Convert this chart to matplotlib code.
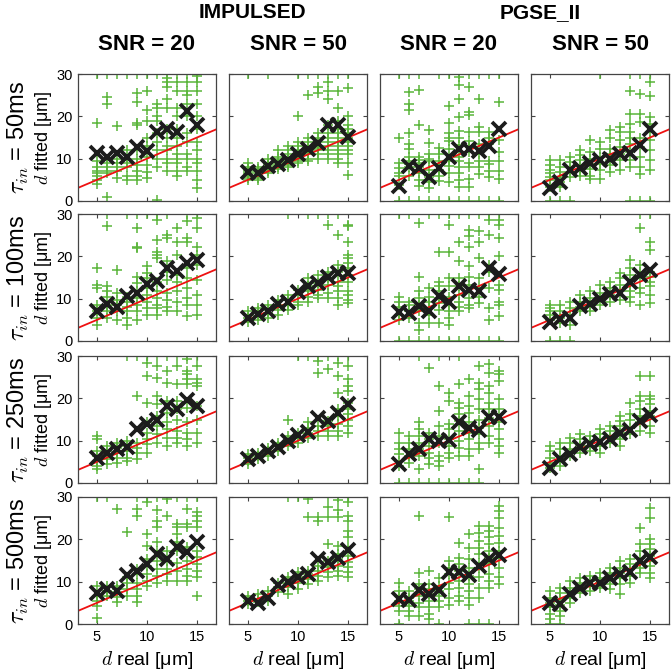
import matplotlib
matplotlib.use('Agg')
import matplotlib.pyplot as plt

plt.rcParams['font.family'] = ['Liberation Sans', 'DejaVu Sans']
plt.rcParams['mathtext.fontset'] = 'cm'

d_real = [5, 6, 7, 8, 9, 10, 11, 12, 13, 14, 15]

methods = ['IMPULSED', 'PGSE_II']
snr_titles = ['SNR = 20', 'SNR = 50', 'SNR = 20', 'SNR = 50']
tau_labels = [r'$\tau_{in}$ = 50ms', r'$\tau_{in}$ = 100ms',
              r'$\tau_{in}$ = 250ms', r'$\tau_{in}$ = 500ms']

# mean fitted diameters (black crosses)
mean_imp20_t50 = [11.3, 10.3, 11.3, 10.3, 12.8, 11.8, 16.3, 17.1, 16.3, 21.2, 17.9]
mean_imp50_t50 = [6.8, 6.5, 8.3, 8.8, 9.8, 11.2, 12.3, 13.8, 17.9, 18.0, 15.2]
mean_pgse20_t50 = [3.5, 8.2, 7.7, 5.7, 7.9, 10.3, 12.2, 12.2, 11.8, 13.0, 16.9]
mean_pgse50_t50 = [3.1, 4.5, 7.3, 7.9, 8.9, 9.6, 10.0, 11.1, 11.4, 13.2, 16.9]
mean_imp20_t100 = [7.1, 8.7, 8.1, 10.7, 11.3, 13.4, 14.2, 17.2, 16.6, 18.4, 19.2]
mean_imp50_t100 = [5.5, 6.3, 7.1, 8.7, 9.3, 11.5, 12.9, 13.7, 15.2, 16.0, 16.0]
mean_pgse20_t100 = [6.9, 6.6, 8.2, 7.0, 10.7, 9.2, 12.9, 12.1, 11.8, 17.2, 15.8]
mean_pgse50_t100 = [4.6, 5.1, 5.4, 8.3, 8.7, 9.9, 11.2, 11.4, 14.0, 15.6, 16.7]
mean_imp20_t250 = [6.0, 7.2, 8.1, 8.6, 12.7, 13.9, 14.9, 18.2, 17.4, 19.6, 18.3]
mean_imp50_t250 = [5.6, 6.4, 7.6, 8.6, 9.9, 11.3, 12.0, 15.4, 14.6, 16.6, 18.6]
mean_pgse20_t250 = [4.6, 6.8, 8.0, 10.5, 9.9, 10.2, 14.4, 13.1, 12.5, 15.7, 15.7]
mean_pgse50_t250 = [3.6, 5.6, 6.8, 8.6, 9.1, 9.7, 10.5, 11.9, 12.5, 14.6, 16.0]
mean_imp20_t500 = [7.4, 8.2, 7.8, 11.5, 12.5, 14.1, 16.5, 15.4, 18.3, 17.0, 19.4]
mean_imp50_t500 = [5.4, 5.0, 6.2, 9.1, 9.9, 11.2, 11.7, 15.4, 14.6, 15.7, 17.5]
mean_pgse20_t500 = [5.8, 5.6, 8.0, 7.2, 8.0, 12.4, 12.4, 11.6, 13.7, 15.3, 16.3]
mean_pgse50_t500 = [5.0, 4.8, 7.0, 8.4, 9.8, 9.8, 10.8, 11.9, 12.4, 14.9, 15.8]

# individual fits (green plus), one list per d real
green_imp20_t50 = [
    [30, 18.5, 9.5, 8, 7, 6.5, 6, 5, 4],
    [30, 24.5, 23, 10, 9, 8, 7, 6.5, 1],
    [30, 17.8, 10, 9, 8, 7, 5.5],
    [30, 12, 10, 9, 8, 6, 5],
    [30, 25.5, 23.5, 18.5, 18, 12, 10, 8.5, 7, 6, 5],
    [30, 26, 21.5, 18.8, 15, 13, 10.5, 8.5, 6.8, 5.5],
    [30, 23, 22, 20, 19, 16, 14, 12, 10, 8, 0.3],
    [30, 29, 28, 27, 24, 22, 17, 15, 13, 12, 10, 9, 7],
    [30, 28, 26, 22, 20, 17, 15, 13, 11, 10, 9, 7, 6],
    [30, 28, 26, 25, 23, 20, 16, 14, 11, 10, 8, 7],
    [30, 29.5, 28, 26, 23, 20, 17, 14, 12, 10, 9, 7, 5, 3]]
green_imp50_t50 = [
    [30, 9, 8, 7.5, 7, 6.5, 6, 5.5, 5],
    [8, 7.5, 7, 6.5, 6, 5.5, 5],
    [30, 10, 9, 8.5, 8, 7.5, 7, 6.5],
    [12, 10.5, 10, 9.5, 9, 8.5, 8, 7.5],
    [13, 12, 11, 10.5, 10, 9.5, 9, 8.5, 8],
    [30, 20, 14, 13, 12, 11, 10.5, 10, 9.5, 9],
    [30, 25, 15, 14, 13, 12, 11.5, 11, 10, 9.5],
    [30, 27, 25.5, 16, 15, 14, 13, 12.5, 12, 11, 10],
    [30, 28, 26, 24, 18, 16, 15, 14, 13, 12, 11, 10],
    [30, 26, 22, 19, 17, 16, 15, 14, 13, 12, 11, 10, 9],
    [30, 26.8, 20, 18, 17, 16, 15, 14, 13, 12, 11, 9, 6.2]]
green_pgse20_t50 = [
    [30, 14.8, 9, 7.7, 6.5, 5.8, 3.7, 0],
    [30, 25.8, 23, 21.5, 16, 13.5, 12.3, 10.5, 9.5, 8.8, 8, 6, 0],
    [30, 26.3, 17.9, 10.5, 9.7, 9, 8, 6.5, 5, 3.5, 0],
    [16.7, 13.6, 11, 10, 9.5, 7.3, 5.7, 4.5, 3, 0],
    [30, 12.5, 11, 9.5, 8.5, 7.3, 6, 4.8, 0],
    [30, 22.4, 18.5, 16, 15, 14.2, 12.3, 9.5, 8.3, 6.7, 4.5, 0],
    [30, 29.3, 27.4, 24, 19.9, 16.6, 14.8, 13.2, 10.5, 9.5, 8, 6.5, 5, 3.3, 0],
    [30, 27, 21, 20.3, 16.3, 14.2, 13, 11.5, 9, 8, 5.2, 3.2, 0],
    [30, 24, 17.4, 16.3, 13.4, 11, 9.4, 8, 6.4, 0],
    [30, 16.3, 15, 13.4, 9.5, 8.7, 7.2, 5.6, 0],
    [30, 23.4, 14.3, 11.5, 9.5, 7.2, 5.2, 0]]
green_pgse50_t50 = [
    [9.6, 8.4, 7.3, 6.5, 5.7, 4.9, 3.3, 0],
    [9.6, 8, 6.8, 5.7, 4.5, 3.3, 0],
    [10.4, 9.2, 8, 6.8, 5.7, 0],
    [12, 10.8, 9.6, 8.4, 7.2, 6],
    [14.5, 11.6, 10, 8.8, 7.6, 6, 5.2],
    [30, 13.9, 12.3, 10.4, 8.8, 7.3, 5.2],
    [16.7, 14.8, 12.4, 11.2, 9.6, 8.4, 6.8],
    [17.4, 16.3, 14.3, 12.7, 11.2, 9.6, 7.3],
    [30, 26, 20.6, 18.2, 16.3, 15, 13.5, 11.5, 9.6, 8, 0],
    [30, 25.3, 20.6, 18.6, 15, 12.7, 10.4, 8, 6.4, 0],
    [30, 28.2, 24.9, 19.8, 18.2, 16.3, 14.3, 12, 9.6, 7.3, 0]]
green_imp20_t100 = [
    [17.2, 13.3, 12.5, 8.5, 7, 5.4, 3.8],
    [30, 27.1, 12.9, 11.7, 10.5, 8.5, 7, 5.4],
    [16.8, 11.3, 9.7, 8.5, 7, 5],
    [30, 10.5, 9.3, 8.1, 7, 5.4, 3.8],
    [30, 26.7, 22.3, 22, 15.2, 13.6, 11.7, 10.1, 8.5, 7, 5],
    [30, 17.6, 16, 14.8, 12.5, 10.9, 9.3, 7.7, 6.2],
    [30, 28.7, 23.9, 21.1, 20.4, 19.6, 14, 11.7, 10.1, 8.5, 7.7, 6.2],
    [30, 25, 24.3, 18.8, 16.4, 14.4, 11.3, 9.7, 8.1, 7],
    [26.8, 23.5, 20.4, 15.6, 14, 11.7, 9.3, 7],
    [30, 28.3, 24.3, 23.5, 17.2, 14.8, 12.5, 10.1, 8.5, 5.8],
    [29, 26.7, 22.3, 20.4, 18, 14.4, 10.9, 8.5, 6.2]]
green_imp50_t100 = [
    [7, 6.2, 5.4, 4.6],
    [7.7, 7, 5.8, 5],
    [8.5, 7.3, 6.5, 5.4],
    [9.7, 8.5, 7.3, 6.2],
    [30, 10.9, 9.7, 8.5, 7.3],
    [12.1, 10.9, 9.3, 8.5],
    [30, 14.8, 12.9, 11.7, 10.5, 9.3],
    [30, 15.6, 13.6, 12.1, 10.9, 10.1],
    [30, 27.5, 16.4, 14.8, 13.3, 11.3, 10.1],
    [30, 25, 18, 16.4, 14, 12.9, 11.7, 10.1, 8.5],
    [27.5, 27.1, 23.5, 20.4, 19.6, 18.4, 17.2, 15.6, 14, 11.7, 10.9, 9.7, 8.9]]
green_pgse20_t100 = [
    [30, 10.5, 9.3, 8.1, 6.2, 5, 0],
    [30, 9.3, 8.5, 7, 5.4, 0],
    [27.9, 15.2, 11.7, 10.1, 8.5, 7, 4.2, 2.6, 0],
    [30, 12.5, 10.5, 9.3, 7.7, 6.2, 4.2, 0],
    [30, 21.1, 14, 12.9, 11.7, 10.1, 8.9, 7.3, 4.2, 0],
    [30, 27.5, 21.1, 14.8, 12.9, 10.5, 8.5, 7, 5.4, 3.8, 0],
    [30, 23.5, 18.8, 14.8, 12.9, 10.9, 9.3, 8.1, 7, 0],
    [30, 26.3, 24.7, 22.3, 17.6, 15.2, 13.3, 10.1, 8.5, 7.7, 0],
    [30, 25.9, 23.5, 19.6, 14.8, 12.5, 10.5, 8.9, 0],
    [30, 28.7, 25.1, 18, 16.4, 12.5, 7.7, 5, 0],
    [28.7, 27.5, 24.3, 20, 13.3, 12.1, 9.3, 8.5, 5.8, 0]]
green_pgse50_t100 = [
    [8.5, 7.7, 7, 6.2, 5, 0],
    [8.5, 7, 5.4, 4.2, 0],
    [9.3, 7.7, 6.2, 3.8, 0],
    [10.9, 9.3, 8.1, 7],
    [11.7, 10.1, 8.5, 7],
    [13.3, 11.3, 10.1, 8.5],
    [14, 12.5, 10.9, 9.3],
    [16, 14.8, 13.3, 11.7, 9.7],
    [19.2, 17.2, 15.6, 13.3, 11.7, 10.5, 9.3],
    [30, 26.7, 18, 16.4, 14.8, 12.5, 11.3, 8.5],
    [30, 23.5, 21.5, 16.4, 15.2, 14, 12.9, 10.9, 8.9]]
green_imp20_t250 = [
    [11.1, 10.3, 7.6, 6.4, 5.2, 4, 3.2],
    [8.7, 7.6, 6.4, 5.6, 4.4],
    [9.5, 8.3, 7.2, 6, 4.8],
    [30, 9.9, 8.7, 7.6, 6, 5.2],
    [30, 20.5, 9.5, 8.3, 7.2, 5.6],
    [30, 28.4, 25.3, 19, 14.3, 11.9, 10.3, 9.1, 7.2],
    [30, 27.6, 24.9, 20.5, 18.6, 15.8, 13.5, 11.5, 9.5],
    [30, 26.5, 23.7, 19.4, 16.6, 14.3, 12.7, 10.7, 8.7],
    [30, 27.6, 23.3, 19.4, 17.4, 15, 12.3, 10.7, 9.5],
    [30, 29.2, 26.5, 25.7, 24.5, 23.3, 17.8, 14.3, 11.9, 10.3, 8.7],
    [30, 27.6, 24.5, 23.7, 22.9, 18.2, 15, 11.9, 9.5]]
green_imp50_t250 = [
    [6.8, 6, 5.2, 4.4],
    [7.2, 6.4, 5.6],
    [8.3, 7.6, 6.4],
    [9.5, 8.7, 7.6],
    [15, 11.1, 9.9, 8.7],
    [30, 11.9, 10.7, 9.5],
    [30, 14.3, 13.1, 11.9, 10.7],
    [30, 28.8, 26.1, 13.5, 12.3, 11.1],
    [30, 26.9, 14.6, 13.5, 12.3, 11.1],
    [30, 28.4, 25.3, 21.3, 17.4, 15.8, 13.9, 12.3, 11.1],
    [30, 27.6, 24.5, 22.9, 21.7, 18.9, 17.4, 16.2, 15, 13.5, 11.9]]
green_pgse20_t250 = [
    [11.9, 9.5, 8, 6.8, 5.2, 4, 0],
    [11.1, 9.5, 8, 6.4, 4.8, 0],
    [30, 14.3, 12.7, 11.1, 9.5, 8, 6.4, 3.2, 0],
    [27.2, 11.9, 10.3, 8.7, 7.2, 6, 4.4, 0],
    [30, 22.9, 17, 13.5, 11.1, 9.5, 6.4, 5.2, 4, 0],
    [21.3, 19.4, 13.9, 12.7, 10.3, 8.7, 7.2, 6, 0],
    [30, 23.3, 19, 17.8, 16.2, 14.6, 12.3, 9.9, 8.3, 6.4, 0],
    [24.5, 20.5, 18.2, 16.6, 14.3, 11.9, 10.3, 8, 6.4, 0],
    [27.6, 23.7, 22.1, 19.8, 17.4, 15, 13.1, 11.5, 9.5, 8, 3.2, 0],
    [28, 26.1, 22.9, 21.3, 19, 17.4, 15.4, 13.5, 11.1, 9.5],
    [26.5, 25.7, 24.1, 19.8, 17.4, 14.3, 12.7, 10.3, 8.7, 7.2]]
green_pgse50_t250 = [
    [8.7, 7.6, 6, 4.8, 3.6],
    [9.5, 8, 6.4, 5.2, 4],
    [10.7, 9.5, 8, 6.4],
    [11.5, 10.3, 8.7, 7.2],
    [11.1, 9.9, 8.7, 7.6],
    [12.7, 11.5, 10.3, 8.7, 7.2],
    [13.5, 12.3, 11.1, 9.5],
    [15.8, 14.6, 13.5, 11.9, 10.3, 8.7],
    [19, 16.2, 15, 13.1, 11.5],
    [25.3, 20.5, 19.4, 17.4, 15.8, 14.3, 12.3],
    [25.3, 20.5, 19.8, 18.6, 17, 15.8, 13.5, 11.9]]
green_imp20_t500 = [
    [30, 9, 6.7, 5.5, 4.3, 1.5],
    [30, 9, 7.9, 6.7],
    [27.2, 9, 8.3, 7.5, 6.3, 5.1],
    [21.7, 11, 9.8, 8.3, 6.7],
    [30, 27.2, 25.6, 13, 11.8, 9.8, 8.3, 6.7, 5.1],
    [30, 28.8, 21.3, 18.5, 15.4, 13.8, 11.8, 10.2, 9],
    [30, 26.9, 24.4, 22.8, 19.3, 17.3, 14.9, 13, 11.4, 9.8],
    [30, 29.6, 25.6, 17.3, 14.9, 13, 11.8, 10.2],
    [30, 23.6, 22.8, 21.3, 19.3, 17.3, 14.5, 12.6, 10.2],
    [30, 27.2, 23.6, 22.8, 18.1, 14.9, 13, 11.4, 10.2],
    [30, 26.4, 25.6, 24.4, 22.8, 17.3, 15.8, 14.2, 12.6, 11, 6.7]]
green_imp50_t500 = [
    [6.7, 5.5, 4.7],
    [7.1, 5.9, 5.1],
    [7.9, 6.7, 5.5],
    [9.8, 8.7, 7.5],
    [30, 11, 9.8, 8.7, 7.1],
    [30, 12.2, 11, 9.8, 8.3],
    [29.6, 25.2, 12.6, 11.8, 10.6, 9.4],
    [25.2, 24.4, 13.8, 12.6, 11.4, 10.2],
    [30, 27.6, 25.2, 18.9, 14.9, 13.4, 12.2, 11],
    [30, 29.2, 26.9, 25.2, 18.5, 16.5, 15.4, 13.8, 12.6, 11.4],
    [30, 28.8, 25.6, 24.4, 22, 20.5, 18.1, 16.1, 14.6, 13.4, 12.2, 11]]
green_pgse20_t500 = [
    [9.8, 7.8, 6.6, 5.4, 4.3, 3.1, 0],
    [7.8, 6.2, 5.4, 4.3, 3.1, 1.9],
    [25.5, 12.1, 9.4, 8.2, 6.6, 5, 3.9, 1.9],
    [12.5, 9.4, 8.2, 7, 5.4, 3.9, 2.3, 1.1],
    [10.9, 9, 7.8, 6.6, 5.4, 3.9, 0],
    [25.3, 14.9, 13.3, 11.7, 9.8, 8.2, 6.2, 4.6],
    [19.2, 15.7, 14.1, 12.5, 10.2, 8.6, 6.6, 5.4],
    [21.2, 18, 15.3, 13.3, 11.3, 9.4, 7.8, 6.2, 4.6, 0],
    [23.1, 21.6, 19.6, 18, 16.5, 14.5, 13.3, 11, 8.6, 6.2, 0],
    [23.1, 22, 20.5, 18.8, 17.2, 15.7, 14.1, 11.7, 10.2, 8.6, 0],
    [27.9, 26.7, 25.1, 22.7, 20.8, 19.2, 17.2, 15.7, 13.3, 11, 9.4]]
green_pgse50_t500 = [
    [7.8, 6.2, 5, 3.9, 2.3, 1.1, 0],
    [8.6, 7.4, 5.8, 4.6, 3.1, 1.9, 0],
    [10.2, 8.6, 7.4, 6.2, 5],
    [10.9, 9.8, 8.6, 7.4],
    [11.3, 10.2, 9, 7.8],
    [12.1, 10.9, 9.8, 8.6],
    [13.3, 12.1, 10.6, 9.4, 8.2],
    [14.9, 13.3, 12.1, 10.9, 9.4, 7],
    [15.3, 14.1, 12.9, 11.3, 9.8],
    [22.7, 18.8, 17.2, 15.7, 14.5, 13.3, 12.1],
    [27.5, 25.1, 20, 18.8, 17.6, 16.1, 14.9, 13.7, 12.1, 10.9]]

means = [[mean_imp20_t50, mean_imp50_t50, mean_pgse20_t50, mean_pgse50_t50],
         [mean_imp20_t100, mean_imp50_t100, mean_pgse20_t100, mean_pgse50_t100],
         [mean_imp20_t250, mean_imp50_t250, mean_pgse20_t250, mean_pgse50_t250],
         [mean_imp20_t500, mean_imp50_t500, mean_pgse20_t500, mean_pgse50_t500]]
greens = [[green_imp20_t50, green_imp50_t50, green_pgse20_t50, green_pgse50_t50],
          [green_imp20_t100, green_imp50_t100, green_pgse20_t100, green_pgse50_t100],
          [green_imp20_t250, green_imp50_t250, green_pgse20_t250, green_pgse50_t250],
          [green_imp20_t500, green_imp50_t500, green_pgse20_t500, green_pgse50_t500]]

W, H = 672, 671
lefts = [78, 229, 380, 531]
tops = [74, 214, 356, 497]
aw, ah = 138, 127
xlim = (3.1, 16.9)
green = '#5ab53a'

fig = plt.figure(figsize=(W / 100, H / 100), dpi=100)

for r in range(4):
    for c in range(4):
        ax = fig.add_axes([lefts[c] / W, 1 - (tops[r] + ah) / H, aw / W, ah / H])
        for xv, ys in zip(d_real, greens[r][c]):
            ax.plot([xv] * len(ys), ys, '+', color=green, ms=6.5, mew=1.1)
        ax.plot(xlim, xlim, color='#ee1111', lw=1.3)
        ax.plot(d_real, means[r][c], 'x', color='#1c1c1c', ms=10, mew=2.7)
        ax.set_xlim(xlim)
        ax.set_ylim(0, 30)
        ax.set_xticks([5, 10, 15])
        ax.set_yticks([0, 10, 20, 30])
        ax.tick_params(direction='in', top=True, right=True, length=3,
                       width=0.8, color='#444444', labelsize=10.5, pad=4)
        for s in ax.spines.values():
            s.set_color('#444444')
            s.set_linewidth(0.9)
        if c > 0:
            ax.set_yticklabels([])
        if r < 3:
            ax.set_xticklabels([])
        else:
            fig.text((lefts[c] + aw / 2) / W, 1 - 660 / H, r'$d$ real [μm]',
                     ha='center', va='center', fontsize=14)

for c in range(4):
    fig.text((lefts[c] + aw / 2) / W, 1 - 44 / H, snr_titles[c],
             ha='center', va='center', fontsize=16, fontweight='bold')

fig.text(252 / W, 1 - 13 / H, methods[0], ha='center', va='center',
         fontsize=15, fontweight='bold')
fig.text(540 / W, 1 - 13 / H, methods[1], ha='center', va='center',
         fontsize=15, fontweight='bold')

for r in range(4):
    yc = 1 - (tops[r] + ah / 2) / H
    fig.text(18 / W, yc, tau_labels[r], rotation=90, ha='center',
             va='center', fontsize=17)
    fig.text(44 / W, yc, r'$d$ fitted [μm]', rotation=90, ha='center',
             va='center', fontsize=13)

fig.savefig('out.png', dpi=100)
